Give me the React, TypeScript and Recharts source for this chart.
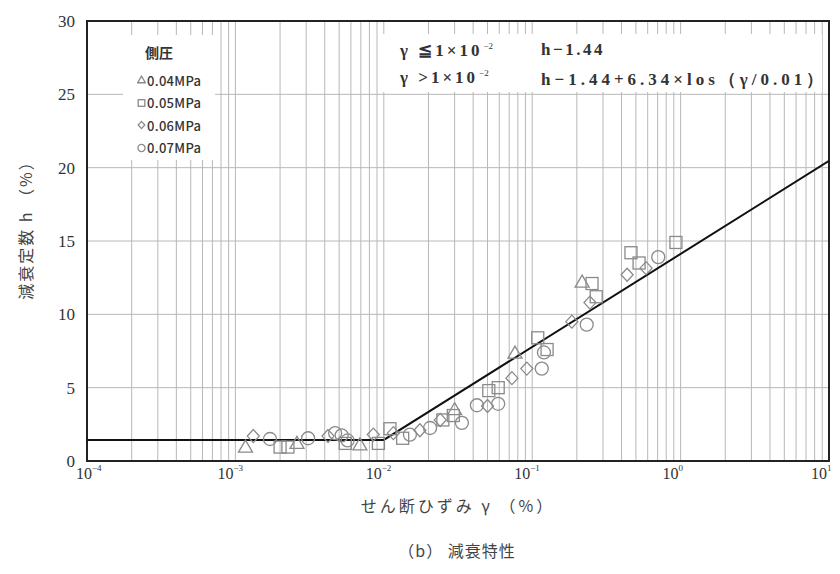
import { ComposedChart, Scatter, XAxis, YAxis, CartesianGrid, ReferenceArea, Legend } from 'recharts';

// shear strain gamma (%) vs damping ratio h (%)
const S_004 = [
  { x: 0.00117, h: 0.95 },
  { x: 0.0026, h: 1.2 },
  { x: 0.0069, h: 1.1 },
  { x: 0.03, h: 3.5 },
  { x: 0.0766, h: 7.36 },
  { x: 0.217, h: 12.2 },
];

const S_005 = [
  { x: 0.002, h: 0.95 },
  { x: 0.00226, h: 0.95 },
  { x: 0.0055, h: 1.2 },
  { x: 0.0092, h: 1.2 },
  { x: 0.011, h: 2.2 },
  { x: 0.0134, h: 1.55 },
  { x: 0.025, h: 2.8 },
  { x: 0.0294, h: 3.1 },
  { x: 0.051, h: 4.8 },
  { x: 0.059, h: 5.0 },
  { x: 0.109, h: 8.4 },
  { x: 0.126, h: 7.6 },
  { x: 0.253, h: 12.1 },
  { x: 0.27, h: 11.2 },
  { x: 0.463, h: 14.2 },
  { x: 0.525, h: 13.5 },
  { x: 0.93, h: 14.9 },
];

const S_006 = [
  { x: 0.00132, h: 1.7 },
  { x: 0.00421, h: 1.7 },
  { x: 0.0085, h: 1.8 },
  { x: 0.0116, h: 1.9 },
  { x: 0.0175, h: 2.1 },
  { x: 0.024, h: 2.8 },
  { x: 0.05, h: 3.75 },
  { x: 0.073, h: 5.65 },
  { x: 0.092, h: 6.3 },
  { x: 0.185, h: 9.5 },
  { x: 0.245, h: 10.8 },
  { x: 0.436, h: 12.7 },
  { x: 0.585, h: 13.15 },
];

const S_007 = [
  { x: 0.00171, h: 1.5 },
  { x: 0.00309, h: 1.55 },
  { x: 0.0047, h: 1.9 },
  { x: 0.0052, h: 1.75 },
  { x: 0.0057, h: 1.4 },
  { x: 0.015, h: 1.8 },
  { x: 0.0205, h: 2.25 },
  { x: 0.0336, h: 2.6 },
  { x: 0.0424, h: 3.8 },
  { x: 0.059, h: 3.9 },
  { x: 0.116, h: 6.3 },
  { x: 0.12, h: 7.4 },
  { x: 0.233, h: 9.3 },
  { x: 0.707, h: 13.9 },
];

// h = 1.44 (gamma <= 0.01), h = 1.44 + 6.34 log(gamma/0.01)
const FIT_LINE = [
  { x: 0.0001, h: 1.44 },
  { x: 0.01, h: 1.44 },
  { x: 10, h: 20.46 },
];

const DECADES = [-4, -3, -2, -1, 0, 1];
const MINOR_STEPS = [2, 3, 4, 5, 6, 7, 8, 9];
const X_TICKS = DECADES.flatMap((d) =>
  d === 1 ? [10] : [Math.pow(10, d), ...MINOR_STEPS.map((m) => m * Math.pow(10, d))]
);
const Y_TICKS = [0, 5, 10, 15, 20, 25, 30];

const MARK = '#8a8a8a';
const SERIF = '"Liberation Serif", "DejaVu Serif", serif';
const JP = '"Noto Sans CJK JP", sans-serif';

function Marker({ kind, cx, cy, s = 1 }: { kind: string; cx: number; cy: number; s?: number }) {
  const common = { fill: 'none', stroke: MARK, strokeWidth: 1.3 };
  if (kind === 'tri')
    return <polygon {...common} points={`${cx},${cy - 7 * s} ${cx + 7 * s},${cy + 5 * s} ${cx - 7 * s},${cy + 5 * s}`} />;
  if (kind === 'sq') return <rect {...common} x={cx - 6 * s} y={cy - 6 * s} width={12 * s} height={12 * s} />;
  if (kind === 'dia')
    return <polygon {...common} points={`${cx},${cy - 6.5 * s} ${cx + 6 * s},${cy} ${cx},${cy + 6.5 * s} ${cx - 6 * s},${cy}`} />;
  return <circle {...common} cx={cx} cy={cy} r={6.5 * s} />;
}

const KINDS: Record<string, string> = {
  '0.04MPa': 'tri',
  '0.05MPa': 'sq',
  '0.06MPa': 'dia',
  '0.07MPa': 'circ',
};

function XTick({ x, y, payload }: any) {
  const e = Math.log10(payload.value);
  const re = Math.round(e);
  if (Math.abs(e - re) > 1e-6) return <g />;
  const ax = re === -4 ? x + 5 : x - 2;
  return (
    <g fill="#333" fontFamily={SERIF}>
      <text x={ax} y={y + 18} textAnchor="end" fontSize={16}>10</text>
      <text x={ax} y={y + 10} textAnchor="start" fontSize={9}>{re < 0 ? `−${-re}` : re}</text>
    </g>
  );
}

function LegendBox({ payload }: any) {
  const items = (payload || []).filter((p: any) => KINDS[p.value]);
  return (
    <div style={{ width: 92, height: 125, background: '#fff', position: 'relative', fontFamily: JP, color: '#333' }}>
      <div style={{ position: 'absolute', left: 22, top: 7, fontSize: 14, fontWeight: 700 }}>側圧</div>
      {items.map((p: any, i: number) => (
        <div key={p.value} style={{ position: 'absolute', left: 14, top: 35 + i * 22.5, height: 20, display: 'flex', alignItems: 'center' }}>
          <svg width={9} height={10} style={{ marginRight: 1 }}>
            <Marker kind={KINDS[p.value]} cx={4.5} cy={5} s={0.55} />
          </svg>
          <span style={{ fontSize: 13, fontWeight: 500, letterSpacing: 0.3 }}>{p.value}</span>
        </div>
      ))}
    </div>
  );
}

export default function App() {
  const sup = { fontSize: 9, fontWeight: 400, verticalAlign: 'super', marginLeft: 1, letterSpacing: 0 } as const;
  return (
    <div style={{ position: 'relative', width: 832, height: 566 }}>
      <ComposedChart width={832} height={520} margin={{ top: 13, right: 11, bottom: 37, left: 19 }}>
        <CartesianGrid stroke="#b8b8b8" strokeWidth={1} />
        <XAxis
          type="number"
          dataKey="x"
          scale="log"
          domain={[0.0001, 10]}
          ticks={X_TICKS}
          allowDataOverflow
          height={30}
          tickSize={0}
          tickMargin={0}
          axisLine={false}
          tickLine={false}
          interval={0}
          tick={<XTick />}
          label={{
            value: 'せん断ひずみ γ （%）',
            position: 'bottom',
            offset: 10,
            style: { fontFamily: JP, fontSize: 16, fill: '#444', letterSpacing: 3 },
          }}
        />
        <YAxis
          type="number"
          dataKey="h"
          domain={[0, 30]}
          ticks={Y_TICKS}
          width={60}
          axisLine={false}
          tickLine={false}
          tickSize={0}
          tickMargin={12}
          tick={{ fontSize: 17, fill: '#333', fontFamily: SERIF }}
          label={{
            content: () => (
              <text
                x={17}
                y={218}
                transform="rotate(-90 17 218)"
                textAnchor="middle"
                dominantBaseline="central"
                fontFamily={JP}
                fontSize={16}
                fill="#444"
                letterSpacing={2}
              >
                減衰定数 h （%）
              </text>
            ),
          }}
        />
        <ReferenceArea x1={0.0001} x2={10} y1={0} y2={30} fill="none" stroke="#222" strokeWidth={2} />
        <Scatter
          name="fit"
          data={FIT_LINE}
          line={{ stroke: '#111', strokeWidth: 2 }}
          shape={() => <g />}
          legendType="none"
          isAnimationActive={false}
        />
        <Scatter name="0.04MPa" data={S_004} shape={(p: any) => <Marker kind="tri" cx={p.cx} cy={p.cy} />} isAnimationActive={false} />
        <Scatter name="0.05MPa" data={S_005} shape={(p: any) => <Marker kind="sq" cx={p.cx} cy={p.cy} />} isAnimationActive={false} />
        <Scatter name="0.06MPa" data={S_006} shape={(p: any) => <Marker kind="dia" cx={p.cx} cy={p.cy} />} isAnimationActive={false} />
        <Scatter name="0.07MPa" data={S_007} shape={(p: any) => <Marker kind="circ" cx={p.cx} cy={p.cy} />} isAnimationActive={false} />
        <Legend
          layout="vertical"
          align="center"
          verticalAlign="middle"
          content={<LegendBox />}
          wrapperStyle={{ left: 115, top: 27, width: 92, height: 125 }}
        />
      </ComposedChart>

      <div
        style={{
          position: 'absolute',
          left: 375,
          top: 26,
          width: 439,
          height: 58,
          background: '#fff',
          fontFamily: SERIF,
          fontWeight: 700,
          fontSize: 17,
          color: '#333',
        }}
      >
        <div style={{ position: 'absolute', left: 17, top: 6, whiteSpace: 'nowrap', letterSpacing: 3 }}>
          γ ≦1×10<span style={sup}>−2</span>
        </div>
        <div style={{ position: 'absolute', left: 158, top: 6, whiteSpace: 'nowrap', letterSpacing: 2.5 }}>h−1.44</div>
        <div style={{ position: 'absolute', left: 17, top: 34, whiteSpace: 'nowrap', letterSpacing: 3 }}>
          γ &gt;1×10<span style={sup}>−2</span>
        </div>
        <div style={{ position: 'absolute', left: 158, top: 34, whiteSpace: 'nowrap', letterSpacing: 4 }}>
          h−1.44+6.34×los（γ/0.01）
        </div>
      </div>

      <div
        style={{
          position: 'absolute',
          left: 249,
          top: 530,
          width: 400,
          textAlign: 'center',
          fontFamily: JP,
          fontSize: 16,
          color: '#444',
          letterSpacing: 1,
        }}
      >
        （b） 減衰特性
      </div>
    </div>
  );
}
